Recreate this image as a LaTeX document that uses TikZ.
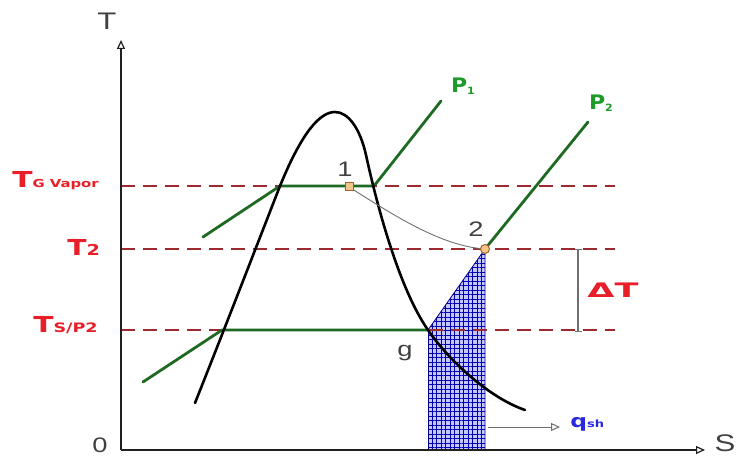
\documentclass[tikz,border=0pt]{standalone}
\usepackage{fontspec}
\setmainfont{Liberation Sans}
\newfontfamily\heavyfont{DejaVu Sans}
\usetikzlibrary{arrows.meta,patterns.meta}
\definecolor{dred}{HTML}{9E2A30}
\definecolor{lred}{HTML}{E81E28}
\definecolor{dgreen}{HTML}{1E6A22}
\definecolor{lgreen}{HTML}{1E9A28}
\definecolor{axgray}{HTML}{202020}
\definecolor{mgray}{HTML}{404040}
\definecolor{lgray}{HTML}{707070}
\definecolor{qblue}{HTML}{2828E0}
\definecolor{mkfill}{HTML}{F2C58A}
\definecolor{mkdraw}{HTML}{A0602A}
\tikzset{
  axis/.style={line width=2pt, draw=axgray, -{Triangle[open,length=9pt,width=8pt,line width=1.2pt]}},
  isotherm/.style={line width=2.4pt, draw=dred, dash pattern=on 14pt off 8pt},
  isobar/.style={line width=2.8pt, draw=dgreen, line cap=round},
  dome/.style={line width=2.6pt, draw=black, line cap=round},
  redlab/.style={text=lred, font=\heavyfont\bfseries\fontsize{22}{22}\selectfont, inner sep=0pt, xscale=1.35},
  greenlab/.style={text=lgreen, font=\heavyfont\bfseries\fontsize{20}{20}\selectfont, inner sep=0pt, xscale=1.1},
  graylab/.style={text=mgray, font=\fontsize{21}{21}\selectfont, inner sep=0pt, xscale=1.3},
  marker/.style={fill=mkfill, draw=mkdraw, line width=1pt, inner sep=0pt, minimum size=8pt},
  hatchA/.style={pattern={Lines[angle=0,distance=4.5pt,line width=1pt]}, pattern color=blue!70!black},
  hatchB/.style={pattern={Lines[angle=90,distance=4.5pt,line width=1pt]}, pattern color=blue!70!black}
}
\begin{document}
\begin{tikzpicture}[x=1pt,y=-1pt]
\useasboundingbox (0,0) rectangle (737,457);
% key points
\coordinate (O) at (121,450);
\coordinate (Ytip) at (121,40);
\coordinate (Xtip) at (705,450);
\coordinate (TGa) at (121,186); \coordinate (TGb) at (615,186);
\coordinate (T2a) at (121,249); \coordinate (T2b) at (615,249);
\coordinate (TSa) at (121,330); \coordinate (TSb) at (615,330);
\coordinate (P1s) at (203,237); \coordinate (P1l) at (280,186);
\coordinate (P1r) at (374,186); \coordinate (P1e) at (441,101);
\coordinate (P2s) at (143,382); \coordinate (P2l) at (222,330);
\coordinate (g) at (428,330);
\coordinate (p2) at (485,249); \coordinate (P2e) at (588,122);
\coordinate (p1) at (349,187);
\coordinate (hb1) at (428,449); \coordinate (hb2) at (487,449);
\coordinate (qs) at (488,427); \coordinate (qe) at (560,427);
\coordinate (dTa) at (578,249); \coordinate (dTb) at (578,332);
\coordinate (dome0) at (195,403);
\coordinate (top) at (335,112);
\coordinate (dome9) at (525,410);

% superheat area
\fill[blue!22] (g) -- (p2) -- (p2 |- hb2) -- (hb1) -- cycle;
\fill[hatchA] (g) -- (p2) -- (p2 |- hb2) -- (hb1) -- cycle;
\fill[hatchB] (g) -- (p2) -- (p2 |- hb2) -- (hb1) -- cycle;
\draw[blue!55!black, line width=0.8pt] (g) -- (p2) -- (p2 |- hb2);
\draw[blue!55!black, line width=0.8pt] (g) -- (hb1);

% isotherms
\draw[isotherm] (TGa) -- (TGb);
\draw[isotherm] (T2a) -- (T2b);
\draw[isotherm] (TSa) -- (TSb);

% isobars
\draw[isobar] (P1s) -- (P1l) -- (P1r) -- (P1e);
\draw[isobar] (P2s) -- (P2l) -- (g);
\draw[isobar] (p2) -- (P2e);

% saturation dome
\draw[dome] (dome0) .. controls (230,315) and (262,232) .. (P1l)
  .. controls (302,132) and (320,112) .. (top)
  .. controls (348,112) and (360,128) .. (366,155)
  .. controls (378,210) and (400,290) .. (g)
  .. controls (450,362) and (490,398) .. (dome9);

% expansion 1 -> 2
\draw[lgray, line width=0.9pt] (p1) .. controls (392,214) and (440,246) .. (p2);

% axes
\draw[axis] (O) -- (Ytip);
\draw[axis] (O) -- (Xtip);

% q_sh arrow
\draw[lgray, line width=1pt, -{Triangle[open,length=9pt,width=8pt,line width=1pt]}] (qs) -- (qe);
% delta T bar
\draw[lgray, line width=1.2pt, {Bar[width=7pt]}-{Bar[width=7pt]}] (dTa) -- (dTb);

% markers
\node[marker, rectangle] (m1) at (p1) {};
\node[marker, circle, minimum size=9pt] (m2) at (p2) {};

% labels
\node[graylab, font=\fontsize{24}{24}\selectfont] (lT) at (107,21) {T};
\node[graylab, font=\fontsize{24}{24}\selectfont, xscale=1] (lS) at (725,443) {S};
\node[graylab] (lO) at (100,445) {0};
\node[graylab] (l1) at (345,169) {1};
\node[graylab] (l2) at (476,229) {2};
\node[graylab] (lg) at (405,353) {g};
\node[greenlab] (lP1) at (463,86) {P\raisebox{-2pt}{\fontsize{10}{10}\selectfont 1}};
\node[greenlab] (lP2) at (601,103) {P\raisebox{-2pt}{\fontsize{10}{10}\selectfont 2}};
\node[redlab, anchor=base west] (lTG) at (12,188) {T{\fontsize{11}{11}\selectfont G Vapor}};
\node[redlab, anchor=base west, xscale=0.95] (lT2) at (67,256) {T{\fontsize{15}{15}\selectfont 2}};
\node[redlab, anchor=base west] (lTS) at (33,333) {T{\fontsize{13}{13}\selectfont S/P2}};
\node[redlab, font=\heavyfont\bfseries\fontsize{20}{20}\selectfont, xscale=1.3] (ldT) at (613,290) {ΔT};
\node[text=qblue, font=\heavyfont\bfseries\fontsize{18}{18}\selectfont, inner sep=0pt, anchor=west, xscale=1.3] (lq) at (570,424) {q{\fontsize{10}{10}\selectfont sh}};
\end{tikzpicture}
\end{document}
